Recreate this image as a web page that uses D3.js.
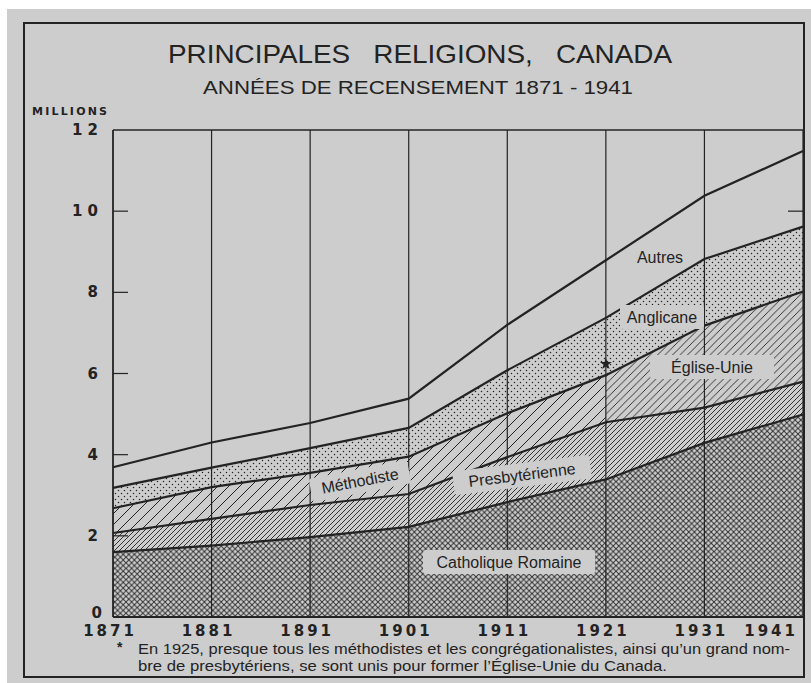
<!DOCTYPE html>
<html>
<head>
<meta charset="utf-8">
<script src="https://cdn.jsdelivr.net/npm/d3@7"></script>
<style>
  body { margin: 0; background: #fff; }
  svg { display: block; }
</style>
</head>
<body>
<div id="chart"></div>
<script>
// valeurs en millions
var years = [1871, 1881, 1891, 1901, 1911, 1921, 1931, 1941];
var catholique = [1.60, 1.76, 1.97, 2.22, 2.83, 3.39, 4.29, 4.99];
var presbyterienne = [0.47, 0.66, 0.79, 0.81, 1.11, 1.41, 0.87, 0.81];
var methodisteUnie = [0.61, 0.78, 0.79, 0.92, 1.08, 1.16, 2.02, 2.22];
var anglicane = [0.50, 0.48, 0.61, 0.71, 1.06, 1.41, 1.64, 1.60];
var autres = [0.51, 0.62, 0.62, 0.72, 1.12, 1.42, 1.56, 1.86];
var yTicks = [0, 2, 4, 6, 8, 10, 12];
var yTickText = ["0", "2", "4", "6", "8", "1 0", "1 2"];

var keys = ["cath", "presb", "meth", "angl", "autres"];
var table = years.map((yr, i) => ({
  year: yr,
  cath: catholique[i],
  presb: presbyterienne[i],
  meth: methodisteUnie[i],
  angl: anglicane[i],
  autres: autres[i]
}));

var w = 811;
var h = 683;
var bg = "#cdcdcd";
var ink = "#232323";

const x = d3.scaleLinear().domain([1871, 1941]).range([113, 803]);
const y = d3.scaleLinear().domain([0, 12]).range([617, 130]);

const svg = d3.select("#chart").append("svg").attr("width", w).attr("height", h);

svg.append("rect").attr("width", w).attr("height", h).attr("fill", "#fff");
svg.append("rect").attr("x", 7).attr("y", 9).attr("width", w - 7).attr("height", h - 9).attr("fill", bg);

const defs = svg.append("defs");

function hatch(id, p, sw) {
  const pat = defs.append("pattern").attr("id", id)
    .attr("patternUnits", "userSpaceOnUse").attr("width", p).attr("height", p);
  pat.append("rect").attr("width", p).attr("height", p).attr("fill", bg);
  pat.append("path")
    .attr("d", `M${-p / 4},${p / 4}L${p / 4},${-p / 4}M0,${p}L${p},0M${p * 3 / 4},${p * 5 / 4}L${p * 5 / 4},${p * 3 / 4}`)
    .attr("stroke", ink).attr("stroke-width", sw);
}
hatch("presb", 5, 0.9);
hatch("meth", 11, 1);
hatch("unie", 7.5, 0.9);

const cross = defs.append("pattern").attr("id", "cath")
  .attr("patternUnits", "userSpaceOnUse").attr("width", 5.6).attr("height", 5.6);
cross.append("rect").attr("width", 5.6).attr("height", 5.6).attr("fill", bg);
cross.append("path").attr("d", "M-1,-1L6.6,6.6M6.6,-1L-1,6.6")
  .attr("stroke", "#2e2e2e").attr("stroke-width", 0.95);

const dots = defs.append("pattern").attr("id", "angl")
  .attr("patternUnits", "userSpaceOnUse").attr("width", 6).attr("height", 6);
dots.append("rect").attr("width", 6).attr("height", 6).attr("fill", bg);
dots.append("circle").attr("cx", 1.5).attr("cy", 1.5).attr("r", 0.75).attr("fill", ink);
dots.append("circle").attr("cx", 4.5).attr("cy", 4.5).attr("r", 0.75).attr("fill", ink);

// méthodiste avant 1921, église-unie après
defs.append("clipPath").attr("id", "avant").append("rect")
  .attr("x", 0).attr("y", 0).attr("width", x(1921)).attr("height", h);
defs.append("clipPath").attr("id", "apres").append("rect")
  .attr("x", x(1921)).attr("y", 0).attr("width", w).attr("height", h);

const series = d3.stack().keys(keys)(table);

const area = d3.area()
  .x((d) => x(d.data.year))
  .y0((d) => y(d[0]))
  .y1((d) => y(d[1]));

const fills = { cath: "url(#cath)", presb: "url(#presb)", angl: "url(#angl)", autres: "none" };

series.forEach((s) => {
  if (s.key === "meth") {
    svg.append("path").attr("d", area(s)).attr("fill", "url(#meth)").attr("clip-path", "url(#avant)");
    svg.append("path").attr("d", area(s)).attr("fill", "url(#unie)").attr("clip-path", "url(#apres)");
  } else {
    svg.append("path").attr("d", area(s)).attr("fill", fills[s.key]);
  }
});

// grille verticale
svg.append("g").selectAll("line").data(years).enter().append("line")
  .attr("x1", (d) => x(d)).attr("x2", (d) => x(d))
  .attr("y1", y(12)).attr("y2", y(0))
  .attr("stroke", ink).attr("stroke-width", (d, i) => (i === 0 ? 1.8 : 1.2));

svg.append("line").attr("x1", x(1871)).attr("x2", x(1941))
  .attr("y1", y(12)).attr("y2", y(12)).attr("stroke", ink).attr("stroke-width", 1.5);
svg.append("line").attr("x1", x(1871)).attr("x2", x(1941))
  .attr("y1", y(0)).attr("y2", y(0)).attr("stroke", ink).attr("stroke-width", 2);

// courbes cumulées
const line = d3.line().x((d) => x(d.data.year)).y((d) => y(d[1]));
series.forEach((s) => {
  svg.append("path").attr("d", line(s)).attr("fill", "none")
    .attr("stroke", ink).attr("stroke-width", 2.2);
});

// axe des millions
svg.append("g").selectAll("line").data(yTicks.filter((d) => d > 0 && d < 12)).enter().append("line")
  .attr("x1", x(1871)).attr("x2", x(1871) + 15)
  .attr("y1", (d) => y(d)).attr("y2", (d) => y(d))
  .attr("stroke", ink).attr("stroke-width", 1.2);
svg.append("line").attr("x1", x(1941) - 15).attr("x2", x(1941))
  .attr("y1", y(10)).attr("y2", y(10)).attr("stroke", ink).attr("stroke-width", 1.2);

svg.append("g").selectAll("text").data(yTicks).enter().append("text")
  .attr("x", (d) => (d === 0 ? 102 : 98))
  .attr("y", (d) => (d === 0 ? y(d) + 1 : y(d) + 5))
  .attr("text-anchor", "end")
  .style("white-space", "pre")
  .style("font", "bold 15px 'DejaVu Sans'")
  .attr("fill", ink)
  .text((d, i) => yTickText[i]);

svg.append("text").attr("x", 32).attr("y", 115)
  .style("font", "bold 11px 'DejaVu Sans'").style("letter-spacing", "2.2px")
  .attr("fill", ink).text("MILLIONS");

// années
svg.append("g").selectAll("text").data(years).enter().append("text")
  .attr("x", (d, i) => (i === years.length - 1 ? 798 : x(d) - 3))
  .attr("y", 636)
  .attr("text-anchor", (d, i) => (i === years.length - 1 ? "end" : "middle"))
  .style("font", "bold 15px 'DejaVu Sans'").style("letter-spacing", "3px")
  .attr("fill", ink)
  .text((d) => d);

// titres
svg.append("text").attr("x", 420).attr("y", 63).attr("text-anchor", "middle")
  .attr("textLength", 504).attr("lengthAdjust", "spacingAndGlyphs")
  .style("white-space", "pre")
  .style("font", "26px 'Liberation Sans Narrow', 'Liberation Sans'")
  .attr("fill", ink).text("PRINCIPALES   RELIGIONS,   CANADA");
svg.append("text").attr("x", 418).attr("y", 94).attr("text-anchor", "middle")
  .attr("textLength", 430).attr("lengthAdjust", "spacingAndGlyphs")
  .style("font", "19px 'Liberation Sans Narrow', 'Liberation Sans'")
  .attr("fill", ink).text("ANNÉES DE RECENSEMENT 1871 - 1941");

// étiquettes des zones
function label(txt, cx, cy, bw, angle, box) {
  const g = svg.append("g").attr("transform", `translate(${cx},${cy}) rotate(${angle})`);
  if (box) {
    g.append("rect").attr("x", -bw / 2).attr("y", -12).attr("width", bw).attr("height", 24)
      .attr("rx", 3).attr("fill", bg);
  }
  g.append("text").attr("y", 5.5).attr("text-anchor", "middle")
    .style("font", "16px 'Liberation Sans'").attr("fill", ink).text(txt);
}
label("Catholique Romaine", 509, 562, 172, 0, true);
label("Presbytérienne", 522, 475, 138, -7, true);
label("Méthodiste", 360, 481, 100, -11, true);
label("Église-Unie", 712, 367, 124, 0, true);
label("Anglicane", 662, 317, 84, 0, true);
label("Autres", 660, 257, 0, 0, false);

svg.append("path").attr("d", d3.symbol(d3.symbolStar, 45)())
  .attr("transform", `translate(${x(1921)},364)`).attr("fill", ink);

// note
svg.append("text").attr("x", 117).attr("y", 652)
  .style("font", "bold 14px 'Liberation Sans'").attr("fill", ink).text("*");
svg.append("text").attr("x", 138).attr("y", 654)
  .attr("textLength", 652).attr("lengthAdjust", "spacingAndGlyphs")
  .style("font", "14.5px 'Liberation Sans Narrow', 'Liberation Sans'").attr("fill", ink)
  .text("En 1925, presque tous les méthodistes et les congrégationalistes, ainsi qu’un grand nom-");
svg.append("text").attr("x", 138).attr("y", 671)
  .attr("textLength", 529).attr("lengthAdjust", "spacingAndGlyphs")
  .style("font", "14.5px 'Liberation Sans Narrow', 'Liberation Sans'").attr("fill", ink)
  .text("bre de presbytériens, se sont unis pour former l’Église-Unie du Canada.");

// cadre
svg.append("rect").attr("x", 24).attr("y", 23).attr("width", 780).attr("height", 654)
  .attr("fill", "none").attr("stroke", ink).attr("stroke-width", 2);
</script>
</body>
</html>
